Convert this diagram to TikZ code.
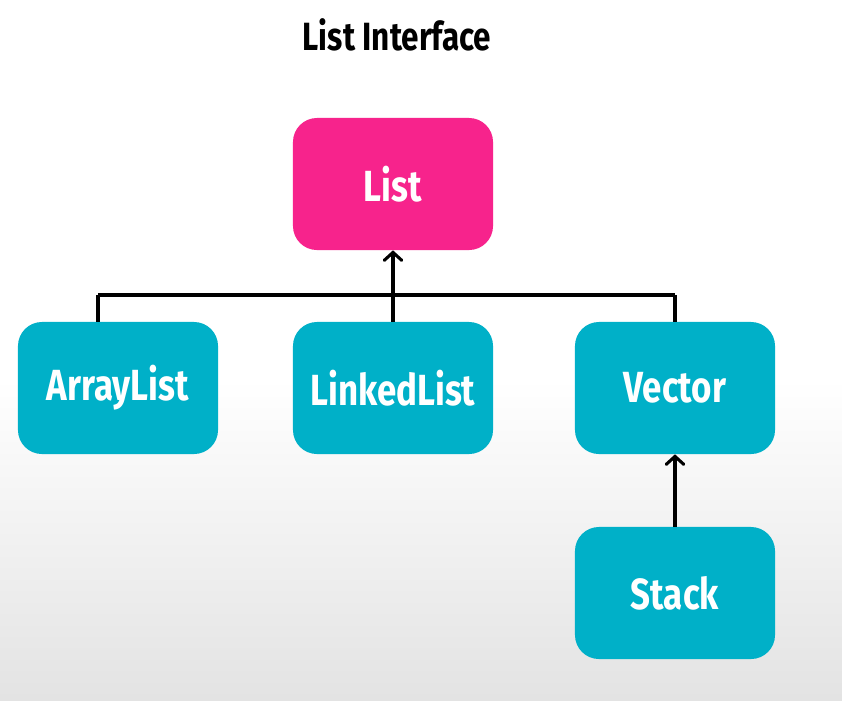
\documentclass[tikz,border=0pt]{standalone}
\usepackage{fontspec}
\setmainfont{Fira Sans}[FakeStretch=0.8]
\usetikzlibrary{positioning,arrows.meta}
\definecolor{listpink}{RGB}{247,35,140}
\definecolor{implteal}{RGB}{0,176,200}
\tikzset{
  box/.style={rounded corners=0.6cm, minimum width=5cm, minimum height=3.3cm, text=white, font=\bfseries\fontsize{31}{36}\selectfont},
  link/.style={line width=2.2pt, black},
  up/.style={link, -{Straight Barb[length=2mm,width=4.4mm,line cap=round]}},
}

\begin{document}
\begin{tikzpicture}[x=0.025cm,y=-0.025cm]
    % background
    \fill[white] (0,0) rectangle (842,380);
    \shade[top color=white,bottom color=gray!22] (0,379) rectangle (842,700);
    \useasboundingbox (0,0) rectangle (842,700);

    \node[font=\bfseries\fontsize{28}{32}\selectfont] (title) at (397,35) {List Interface};

    \node[box, fill=listpink] (list) at (393,184) {List};
    \node[box, fill=implteal] (arr) at (118,388) {ArrayList};
    \node[box, fill=implteal] (lnk) at (393,388) {LinkedList};
    \node[box, fill=implteal] (vec) at (675,388) {Vector};
    \node[box, fill=implteal] (stk) at (675,593) {Stack};

    \coordinate (busL) at (98,295);
    \coordinate (busR) at (675,295);
    \draw[link] (busL) -- (busR);
    \draw[link] (busL) -- (busL |- arr.north);
    \draw[link] (busR) -- (vec.north);
    \draw[up] (lnk.north) -- (list.south);
    \draw[up] (stk.north) -- (vec.south);
\end{tikzpicture}
\end{document}
